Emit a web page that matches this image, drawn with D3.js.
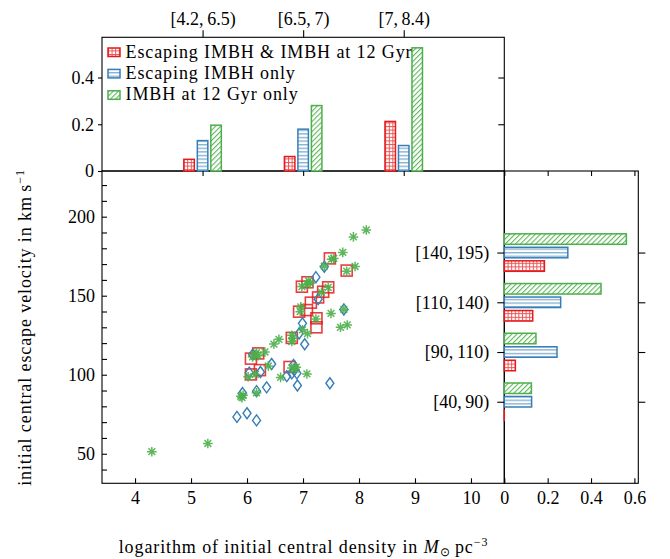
<!DOCTYPE html>
<html><head><meta charset="utf-8">
<script src="https://cdn.jsdelivr.net/npm/d3@7"></script>
<style>
html,body{margin:0;padding:0;background:#fff;}
svg{display:block;font-family:"Liberation Serif","Times New Roman",serif;}
</style></head><body>
<svg id="chart" width="670" height="559"></svg>
<script>
// ---- Scatter: log central density vs. central escape velocity ----
const bothX = [6.07, 6.20, 6.07, 6.23, 6.76, 6.80, 6.93, 7.07, 7.14, 7.24, 7.24, 7.27, 7.36, 7.45, 6.98, 7.08, 7.48, 7.78];
const bothY = [110.2, 113.5, 100.2, 102.9, 104.9, 123.3, 139.9, 140.9, 145.6, 135.7, 130.0, 148.9, 152.5, 155.3, 155.7, 158.5, 173.6, 165.9];

const escX = [5.82, 6.00, 6.17, 5.92, 6.17, 6.35, 6.04, 6.24, 6.44, 6.10, 6.71, 6.80, 6.84, 6.89, 6.83, 6.90, 7.48, 7.03, 6.93, 6.99, 7.27, 7.23, 7.38, 7.73];
const escY = [73.3, 75.6, 71.1, 88.4, 89.6, 92.0, 101.3, 101.7, 106.8, 112.7, 99.1, 100.9, 103.0, 100.9, 106.2, 93.2, 94.6, 119.3, 126.1, 132.5, 147.8, 161.7, 168.3, 141.3];

const stayX = [4.30, 5.30, 5.91, 5.93, 5.89, 6.17, 6.02, 6.15, 6.38, 6.60, 6.80, 6.86, 6.88, 7.07, 6.10, 6.15, 6.20, 6.17, 6.32, 6.48, 6.57, 6.80, 6.82, 6.80, 6.99, 7.08, 6.95, 6.96, 7.23, 7.50, 7.67, 7.79, 7.73, 6.98, 7.07, 7.10, 7.13, 7.33, 7.45, 7.38, 7.51, 7.55, 7.71, 7.78, 7.93, 7.90, 8.13];
const stayY = [51.3, 56.5, 85.5, 87.0, 86.3, 88.6, 98.7, 100.2, 105.5, 98.3, 104.3, 103.5, 104.8, 100.5, 111.3, 112.7, 112.0, 114.0, 114.4, 119.4, 122.4, 121.0, 123.0, 125.0, 128.4, 126.0, 139.9, 142.9, 135.3, 138.8, 130.0, 131.5, 141.3, 155.8, 157.3, 159.3, 157.8, 152.1, 155.3, 168.7, 173.1, 173.6, 177.4, 165.5, 168.5, 187.2, 191.6];

// ---- Top histogram: fractions per density bin ----
const densityBins = ["[4.2,\u20096.5)", "[6.5,\u20097)", "[7,\u20098.4)"];
const topBoth = [0.050, 0.062, 0.212];
const topEsc  = [0.130, 0.179, 0.109];
const topStay = [0.196, 0.280, 0.527];

// ---- Right histogram: fractions per escape-velocity bin ----
const velocityBins = ["[40,\u200990)", "[90,\u2009110)", "[110,\u2009140)", "[140,\u2009195)"];
const rightBoth = [0.000, 0.051, 0.131, 0.185];
const rightEsc  = [0.126, 0.243, 0.260, 0.293];
const rightStay = [0.125, 0.146, 0.446, 0.563];

const legendLabels = ["Escaping IMBH & IMBH at 12 Gyr", "Escaping IMBH only", "IMBH at 12 Gyr only"];
const xTicks = [4, 5, 6, 7, 8, 9, 10];
const yTicks = d3.range(40, 230, 10);
const yLabelTicks = [50, 100, 150, 200];
const topYTicks = [0, 0.2, 0.4];
const rightXTicks = [0, 0.2, 0.4, 0.6];

const RED = "#e41a1c", BLUE = "#377eb8", GREEN = "#4daf4a";
const FS = 18;

const svg = d3.select("#chart");

// panel geometry
const L = 102, M = 504.3, R = 638.3;
const T = 37.3, J = 171, B = 483.3;

const xMain = d3.scaleLinear().domain([3.41, 10.595]).range([L, M]);
const yMain = d3.scaleLinear().domain([31.3, 228.9]).range([B, J]);
const xTop = d3.scaleLinear().domain([0, 4]).range([L, M]);
const yTop = d3.scaleLinear().domain([0, 0.572]).range([J, T]);
const xRight = d3.scaleLinear().domain([0, 0.618]).range([M, R]);
const yRight = d3.scaleLinear().domain([-0.64, 5.64]).range([B, J]);

// hatch patterns
const defs = svg.append("defs");
const pRed = defs.append("pattern").attr("id", "hRed").attr("patternUnits", "userSpaceOnUse")
  .attr("width", 3.6).attr("height", 3.6);
pRed.append("rect").attr("width", 3.6).attr("height", 3.6).attr("fill", RED).attr("opacity", 0.75);
pRed.append("rect").attr("x", 1.0).attr("y", 1.0).attr("width", 2.6).attr("height", 2.6).attr("fill", "#fff");

const pBlue = defs.append("pattern").attr("id", "hBlue").attr("patternUnits", "userSpaceOnUse")
  .attr("width", 4).attr("height", 3.6);
pBlue.append("rect").attr("width", 4).attr("height", 3.6).attr("fill", "#fff");
pBlue.append("rect").attr("y", 0).attr("width", 4).attr("height", 1.4).attr("fill", BLUE).attr("opacity", 0.6);

const pGreen = defs.append("pattern").attr("id", "hGreen").attr("patternUnits", "userSpaceOnUse")
  .attr("width", 3.6).attr("height", 3.6).attr("patternTransform", "rotate(45)");
pGreen.append("rect").attr("width", 3.6).attr("height", 3.6).attr("fill", "#fff");
pGreen.append("rect").attr("x", 0).attr("width", 1.1).attr("height", 3.6).attr("fill", GREEN).attr("opacity", 0.9);

const series = [
  {fill: "url(#hRed)", color: RED},
  {fill: "url(#hBlue)", color: BLUE},
  {fill: "url(#hGreen)", color: GREEN}
];

// ---- scatter markers ----
const gPts = svg.append("g");
const sq = 11;
gPts.selectAll("rect.both").data(d3.zip(bothX, bothY)).join("rect")
  .attr("class", "both")
  .attr("x", d => xMain(d[0]) - sq / 2).attr("y", d => yMain(d[1]) - sq / 2)
  .attr("width", sq).attr("height", sq)
  .attr("fill", "none").attr("stroke", RED).attr("stroke-width", 1.6).attr("stroke-opacity", 0.85);

gPts.selectAll("path.esc").data(d3.zip(escX, escY)).join("path")
  .attr("class", "esc")
  .attr("transform", d => `translate(${xMain(d[0])},${yMain(d[1])})`)
  .attr("d", "M0,-5.5L4,0L0,5.5L-4,0Z")
  .attr("fill", "none").attr("stroke", BLUE).attr("stroke-width", 1.4);

const ast = (() => {
  const r = 4.8, p = [];
  for (let k = 0; k < 4; k++) {
    const a = k * Math.PI / 4;
    const dx = r * Math.sin(a), dy = -r * Math.cos(a);
    p.push(`M${-dx},${-dy}L${dx},${dy}`);
  }
  return p.join("");
})();
gPts.selectAll("path.stay").data(d3.zip(stayX, stayY)).join("path")
  .attr("class", "stay")
  .attr("transform", d => `translate(${xMain(d[0])},${yMain(d[1])})`)
  .attr("d", ast)
  .attr("fill", "none").attr("stroke", GREEN).attr("stroke-width", 1.5).attr("stroke-opacity", 0.9);

// ---- frames ----
const frame = svg.append("g").attr("fill", "none").attr("stroke", "#000").attr("stroke-width", 1.1);
frame.append("rect").attr("x", L).attr("y", T).attr("width", M - L).attr("height", J - T);
frame.append("rect").attr("x", L).attr("y", J).attr("width", M - L).attr("height", B - J);
frame.append("rect").attr("x", M).attr("y", J).attr("width", R - M).attr("height", B - J);

// ---- top histogram bars ----
const topData = [topBoth, topEsc, topStay];
const barW = 10.5, barOff = 13.5;
topData.forEach((vals, s) => {
  svg.append("g").selectAll("rect").data(vals).join("rect")
    .attr("x", (d, i) => xTop(i + 1) + (s - 1) * barOff - barW / 2)
    .attr("y", d => yTop(d))
    .attr("width", barW)
    .attr("height", d => yTop(0) - yTop(d))
    .attr("fill", series[s].fill)
    .attr("stroke", series[s].color).attr("stroke-width", 1.5);
});

// ---- right histogram bars (green on top, red at bottom) ----
// an empty bin still shows its outline as a hairline on the axis
const rightData = [rightBoth, rightEsc, rightStay];
rightData.forEach((vals, s) => {
  svg.append("g").selectAll("rect").data(vals).join("rect")
    .attr("x", xRight(0))
    .attr("y", (d, i) => yRight(i + 1) - (s - 1) * barOff - barW / 2)
    .attr("width", d => Math.max(xRight(d) - xRight(0), 0.01))
    .attr("height", barW)
    .attr("fill", series[s].fill)
    .attr("stroke", series[s].color).attr("stroke-width", 1.5);
});

// ---- axes ----
function clean(g) {
  g.attr("font-family", null).attr("font-size", null);
  g.select(".domain").remove();
  g.selectAll("text").attr("font-size", FS).attr("fill", "#000");
  g.selectAll("line").attr("stroke", "#000").attr("stroke-width", 1.1);
}

// main x (inward ticks, labels below)
svg.append("g").attr("transform", `translate(0,${B})`)
  .call(d3.axisBottom(xMain).tickValues(xTicks).tickSize(-5).tickPadding(7.5).tickFormat(d3.format("d")))
  .call(clean);

// main y (inward ticks every 10, labelled every 50)
svg.append("g").attr("transform", `translate(${L},0)`)
  .call(d3.axisLeft(yMain).tickValues(yTicks).tickSize(-5).tickPadding(7)
    .tickFormat(d => yLabelTicks.includes(d) ? d3.format("d")(d) : ""))
  .call(clean);

// top histogram y, left outward and right inward
svg.append("g").attr("transform", `translate(${L},0)`)
  .call(d3.axisLeft(yTop).tickValues(topYTicks).tickSize(4).tickPadding(4)
    .tickFormat(d => d === 0 ? "0" : d3.format(".1f")(d)))
  .call(clean);
svg.append("g").attr("transform", `translate(${M},0)`)
  .call(d3.axisLeft(yTop).tickValues(topYTicks.slice(1)).tickSize(6).tickFormat(""))
  .call(clean);

// top histogram categories (outward ticks, top and bottom)
svg.append("g").attr("transform", `translate(0,${T})`)
  .call(d3.axisTop(xTop).tickValues([1, 2, 3]).tickSize(7).tickPadding(5)
    .tickFormat(d => densityBins[d - 1]))
  .call(clean);
svg.append("g").attr("transform", `translate(0,${J})`)
  .call(d3.axisBottom(xTop).tickValues([1, 2, 3]).tickSize(5).tickFormat(""))
  .call(clean);

// right histogram x (inward, bottom with labels, top without)
svg.append("g").attr("transform", `translate(0,${B})`)
  .call(d3.axisBottom(xRight).tickValues(rightXTicks).tickSize(-5).tickPadding(7.5)
    .tickFormat(d => d === 0 ? "0" : d3.format(".1f")(d)))
  .call(clean);
svg.append("g").attr("transform", `translate(0,${J})`)
  .call(d3.axisTop(xRight).tickValues(rightXTicks).tickSize(-5).tickFormat(""))
  .call(clean);

// right histogram categories (outward both sides)
svg.append("g").attr("transform", `translate(${M},0)`)
  .call(d3.axisLeft(yRight).tickValues([1, 2, 3, 4]).tickSize(7).tickPadding(8)
    .tickFormat(d => velocityBins[d - 1]))
  .call(clean);
svg.append("g").attr("transform", `translate(${R},0)`)
  .call(d3.axisRight(yRight).tickValues([1, 2, 3, 4]).tickSize(7).tickFormat(""))
  .call(clean);

// ---- legend ----
const leg = svg.append("g");
legendLabels.forEach((t, i) => {
  const by = 57.5 + i * 21.4;
  leg.append("rect").attr("x", 108).attr("y", by - 9.5).attr("width", 12).attr("height", 8.5)
    .attr("fill", series[i].fill).attr("stroke", series[i].color).attr("stroke-width", 1.5);
  leg.append("text").attr("x", 125.5).attr("y", by).attr("font-size", FS)
    .attr("letter-spacing", "0.9px").text(t);
});

// ---- axis titles ----
const xt = svg.append("text").attr("x", 303.5).attr("y", 553).attr("text-anchor", "middle")
  .attr("font-size", FS).attr("letter-spacing", "0.9px");
xt.append("tspan").text("logarithm of initial central density in ");
xt.append("tspan").attr("font-style", "italic").text("M");
xt.append("tspan").attr("font-size", 12).attr("dy", 3).text("\u2299");
xt.append("tspan").attr("dy", -3).text("\u2009pc");
xt.append("tspan").attr("font-size", 12).attr("dy", -7).text("\u22123");

const yt = svg.append("text").attr("transform", "translate(31,327.5) rotate(-90)").attr("text-anchor", "middle")
  .attr("font-size", FS).attr("letter-spacing", "0.9px");
yt.append("tspan").text("initial central escape velocity in km\u2009s");
yt.append("tspan").attr("font-size", 12).attr("dy", -7).text("\u22121");
</script>
</body></html>
